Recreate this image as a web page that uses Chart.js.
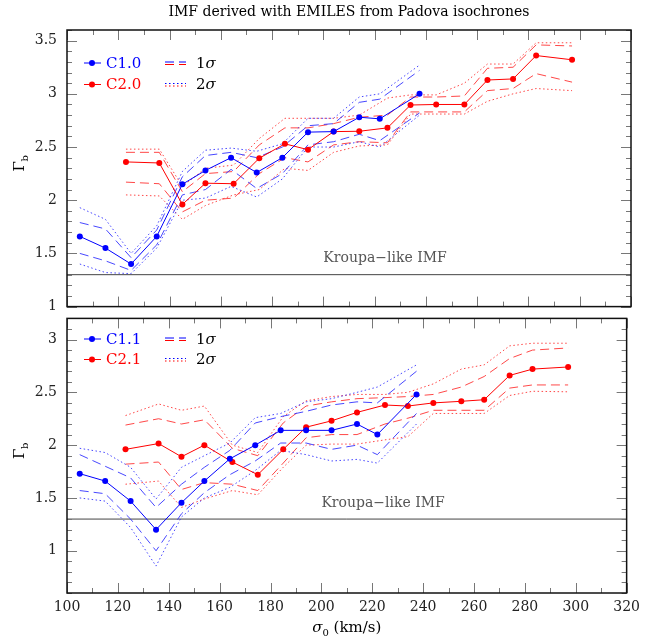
<!DOCTYPE html>
<html>
<head>
<meta charset="utf-8">
<script src="https://cdn.jsdelivr.net/npm/chart.js@4.4.0/dist/chart.umd.min.js"></script>
<style>
  html, body { margin: 0; padding: 0; background: #fff; }
  #wrap { position: relative; width: 646px; height: 639px; }
  #topChart { position: absolute; left: 0; top: 0; }
  #bottomChart { position: absolute; left: 0; top: 300px; }
</style>
</head>
<body>
<div id="wrap">
  <canvas id="topChart" width="646" height="325"></canvas>
  <canvas id="bottomChart" width="646" height="339"></canvas>
</div>
<script>
// ---- data ----
const xTickLabels = [100, 120, 140, 160, 180, 200, 220, 240, 260, 280, 300, 320];
const yTicksTop = [1, 1.5, 2, 2.5, 3, 3.5];
const yTicksBottom = [1, 1.5, 2, 2.5, 3];
const kroupaLevel = 1.3;

// top panel: C1.0 (blue)
const sigC10 = [105, 115, 125, 135, 145, 154, 164, 174, 184, 194, 204, 214, 222, 237.5];
const gamC10 = [1.66, 1.55, 1.40, 1.66, 2.15, 2.28, 2.40, 2.26, 2.40, 2.64, 2.645, 2.78, 2.765, 3.00];
const c10Hi1 = [1.79, 1.73, 1.46, 1.72, 2.22, 2.42, 2.45, 2.40, 2.50, 2.70, 2.72, 2.92, 2.95, 3.22];
const c10Lo1 = [1.50, 1.43, 1.34, 1.58, 2.05, 2.10, 2.29, 2.11, 2.25, 2.52, 2.55, 2.62, 2.56, 2.82];
const c10Hi2 = [1.93, 1.82, 1.50, 1.76, 2.27, 2.47, 2.49, 2.46, 2.53, 2.77, 2.77, 2.97, 3.00, 3.27];
const c10Lo2 = [1.40, 1.32, 1.31, 1.55, 2.00, 2.02, 2.13, 2.03, 2.20, 2.50, 2.50, 2.55, 2.50, 2.80];

// top panel: C2.0 (red)
const sigC20 = [123, 136, 145, 154, 165, 175, 185, 194, 204, 214, 225, 234, 244, 255, 264, 274, 283, 297];
const gamC20 = [2.36, 2.35, 1.96, 2.16, 2.155, 2.395, 2.53, 2.475, 2.645, 2.648, 2.68, 2.895, 2.90, 2.90, 3.13, 3.14, 3.36, 3.32];
const c20Hi1 = [2.45, 2.45, 2.08, 2.25, 2.27, 2.52, 2.68, 2.68, 2.72, 2.78, 2.80, 2.97, 2.97, 2.98, 3.24, 3.25, 3.46, 3.45];
const c20Lo1 = [2.17, 2.155, 1.89, 2.00, 2.02, 2.25, 2.40, 2.36, 2.52, 2.55, 2.54, 2.83, 2.83, 2.83, 3.03, 3.05, 3.19, 3.11];
const c20Hi2 = [2.48, 2.48, 2.13, 2.30, 2.33, 2.58, 2.77, 2.77, 2.77, 2.80, 2.96, 2.99, 2.99, 3.10, 3.28, 3.28, 3.48, 3.48];
const c20Lo2 = [2.05, 2.04, 1.82, 1.95, 2.05, 2.10, 2.30, 2.28, 2.45, 2.51, 2.52, 2.81, 2.81, 2.81, 2.93, 3.00, 3.05, 3.03];

// bottom panel: C1.1 (blue)
const sigC11 = [105, 115, 125, 135, 145, 154, 164, 174, 184, 194, 204, 214, 222, 237.4];
const gamC11 = [1.73, 1.66, 1.47, 1.20, 1.455, 1.66, 1.87, 2.00, 2.14, 2.14, 2.14, 2.20, 2.10, 2.48];
const c11Hi1 = [1.91, 1.80, 1.69, 1.41, 1.63, 1.79, 1.95, 2.21, 2.27, 2.32, 2.38, 2.41, 2.40, 2.70];
const c11Lo1 = [1.57, 1.54, 1.30, 1.00, 1.35, 1.55, 1.72, 1.85, 2.02, 2.02, 1.96, 2.00, 1.91, 2.30];
const c11Hi2 = [1.97, 1.93, 1.79, 1.49, 1.79, 1.90, 2.02, 2.26, 2.30, 2.41, 2.44, 2.50, 2.55, 2.76];
const c11Lo2 = [1.50, 1.47, 1.22, 0.855, 1.32, 1.50, 1.60, 1.76, 1.95, 1.91, 1.85, 1.865, 1.83, 2.20];

// bottom panel: C2.1 (red)
const sigC21 = [123, 136, 145, 154, 165, 175, 185, 194, 204, 214, 225, 234, 244, 255, 264, 274, 283, 297];
const gamC21 = [1.96, 2.015, 1.89, 2.00, 1.84, 1.72, 1.96, 2.17, 2.23, 2.31, 2.38, 2.37, 2.40, 2.415, 2.43, 2.66, 2.72, 2.74];
const c21Hi1 = [2.19, 2.25, 2.20, 2.24, 1.97, 1.90, 2.21, 2.37, 2.41, 2.44, 2.45, 2.46, 2.48, 2.55, 2.65, 2.82, 2.90, 2.92];
const c21Lo1 = [1.82, 1.84, 1.58, 1.645, 1.63, 1.57, 1.83, 2.07, 2.10, 2.10, 2.20, 2.255, 2.33, 2.33, 2.33, 2.54, 2.57, 2.57];
const c21Hi2 = [2.28, 2.39, 2.33, 2.37, 2.00, 1.93, 2.27, 2.42, 2.46, 2.48, 2.48, 2.50, 2.58, 2.72, 2.76, 2.94, 2.965, 2.965];
const c21Lo2 = [1.63, 1.66, 1.41, 1.49, 1.57, 1.53, 1.79, 2.00, 2.01, 2.01, 2.05, 2.08, 2.30, 2.30, 2.30, 2.47, 2.51, 2.505];

// ---- styling ----
const BLUE = '#0000ff';
const RED = '#ff0000';
const BLUE_BAND = 'rgba(40,40,255,0.85)';
const RED_BAND = 'rgba(255,40,40,0.85)';
const DASH = [9, 5];
const DOT = [1.5, 2.5];
const FONT = '"DejaVu Serif", "Liberation Serif", serif';

function pts(xs, ys) {
    return xs.map(function(x, i) { return {x: x, y: ys[i]}; });
}

function mainSet(label, xs, ys, color) {
    return {
        label: label,
        data: pts(xs, ys),
        borderColor: color,
        backgroundColor: color,
        borderWidth: 1,
        pointRadius: 3,
        pointBorderWidth: 0,
        tension: 0,
        order: 0
    };
}

function bandSet(xs, ys, color, dash) {
    return {
        data: pts(xs, ys),
        borderColor: color,
        borderWidth: 1,
        borderDash: dash,
        pointRadius: 0,
        tension: 0,
        order: 1
    };
}

function kroupaSet() {
    return {
        data: [{x: 100, y: kroupaLevel}, {x: 320, y: kroupaLevel}],
        borderColor: '#444',
        borderWidth: 1,
        pointRadius: 0,
        order: 2
    };
}

// frame, inward ticks, legend and annotation text
const decorPlugin = {
    id: 'decor',
    afterDraw: function(chart, args, opts) {
        const ctx = chart.ctx;
        const a = chart.chartArea;
        const xs = chart.scales.x;
        const ys = chart.scales.y;
        ctx.save();

        // ticks
        ctx.strokeStyle = '#777';
        ctx.lineWidth = 1;
        ctx.beginPath();
        for (let v = 100; v <= 320; v += 10) {
            const px = Math.round(xs.getPixelForValue(v)) + 0.5;
            const len = (v % 20 === 0) ? 10 : 5;
            ctx.moveTo(px, a.top); ctx.lineTo(px, a.top + len);
            ctx.moveTo(px, a.bottom); ctx.lineTo(px, a.bottom - len);
        }
        for (let i = Math.round(ys.min * 10); i <= Math.round(ys.max * 10); i++) {
            const py = Math.round(ys.getPixelForValue(i / 10)) + 0.5;
            const len = (i % 5 === 0) ? 10 : 5;
            ctx.moveTo(a.left, py); ctx.lineTo(a.left + len, py);
            ctx.moveTo(a.right, py); ctx.lineTo(a.right - len, py);
        }
        ctx.stroke();

        // frame
        ctx.strokeStyle = '#111';
        ctx.lineWidth = 1.5;
        ctx.strokeRect(a.left, a.top, a.right - a.left, a.bottom - a.top);

        // legend
        const y0 = opts.legendY;
        const gap = opts.legendGap;
        const rows = [[opts.names[0], BLUE], [opts.names[1], RED]];
        ctx.font = '15px ' + FONT;
        ctx.textBaseline = 'middle';
        rows.forEach(function(r, i) {
            const y = y0 + i * gap;
            ctx.strokeStyle = r[1];
            ctx.fillStyle = r[1];
            ctx.lineWidth = 1;
            ctx.setLineDash([]);
            ctx.beginPath(); ctx.moveTo(84, y); ctx.lineTo(101, y); ctx.stroke();
            ctx.beginPath(); ctx.arc(92, y, 3, 0, Math.PI * 2); ctx.fill();
            ctx.textAlign = 'left';
            ctx.fillText(r[0], 106, y + 1);

            ctx.setLineDash(i === 0 ? DASH : DOT);
            ctx.strokeStyle = BLUE;
            ctx.beginPath(); ctx.moveTo(165, y - 1); ctx.lineTo(186, y - 1); ctx.stroke();
            ctx.strokeStyle = RED;
            ctx.beginPath(); ctx.moveTo(165, y + 1.5); ctx.lineTo(186, y + 1.5); ctx.stroke();
            ctx.setLineDash([]);
            ctx.fillStyle = '#000';
            ctx.font = '15px ' + FONT;
            ctx.fillText(String(i + 1), 196, y + 1);
            const w = ctx.measureText(String(i + 1)).width;
            ctx.font = 'italic 15px ' + FONT;
            ctx.fillText('σ', 196 + w, y + 1);
            ctx.font = '15px ' + FONT;
        });

        // Kroupa label
        ctx.fillStyle = '#555';
        ctx.font = '14px ' + FONT;
        ctx.textAlign = 'left';
        ctx.fillText('Kroupa\u2212like IMF', xs.getPixelForValue(200), ys.getPixelForValue(kroupaLevel) - 16);

        // y axis title
        ctx.save();
        ctx.translate(20, (a.top + a.bottom) / 2 - 5);
        ctx.rotate(-Math.PI / 2);
        ctx.fillStyle = '#000';
        ctx.font = '15px ' + FONT;
        ctx.textAlign = 'center';
        ctx.fillText('\u0393', -3, 0);
        ctx.font = '10px ' + FONT;
        ctx.fillText('b', 5, 5);
        ctx.restore();

        // chart title / x title
        ctx.fillStyle = '#000';
        if (opts.title) {
            ctx.font = '14px ' + FONT;
            ctx.textAlign = 'center';
            ctx.fillText(opts.title, (a.left + a.right) / 2, 12);
        }
        if (opts.xTitle) {
            const cx = (a.left + a.right) / 2;
            const ty = a.bottom + 35;
            ctx.textAlign = 'left';
            ctx.font = 'italic 15px ' + FONT;
            const w1 = ctx.measureText('σ').width;
            ctx.font = '10px ' + FONT;
            const w2 = ctx.measureText('0').width;
            ctx.font = '15px ' + FONT;
            const w3 = ctx.measureText(' (km/s)').width;
            let x = cx - (w1 + w2 + w3) / 2;
            ctx.font = 'italic 15px ' + FONT;
            ctx.fillText('σ', x, ty);
            x += w1;
            ctx.font = '10px ' + FONT;
            ctx.fillText('0', x, ty + 5);
            x += w2;
            ctx.font = '15px ' + FONT;
            ctx.fillText(' (km/s)', x, ty);
        }
        ctx.restore();
    }
};

function makeChart(id, datasets, yMin, yMax, yTicks, showX, padding, decor) {
    const ctx = document.getElementById(id).getContext('2d');
    return new Chart(ctx, {
        type: 'line',
        data: { datasets: datasets },
        options: {
            responsive: false,
            animation: false,
            layout: { padding: padding },
            scales: {
                x: {
                    type: 'linear',
                    min: 100,
                    max: 320,
                    display: showX,
                    grid: { display: false, drawTicks: false },
                    border: { display: false },
                    afterBuildTicks: function(scale) {
                        scale.ticks = xTickLabels.map(function(v) { return {value: v}; });
                    },
                    afterFit: function(scale) { if (showX) scale.height = 46; },
                    ticks: {
                        padding: 6,
                        maxRotation: 0,
                        color: '#222',
                        font: { family: FONT, size: 14 },
                        callback: function(v) { return String(v); }
                    }
                },
                y: {
                    type: 'linear',
                    min: yMin,
                    max: yMax,
                    grid: { display: false, drawTicks: false },
                    border: { display: false },
                    afterBuildTicks: function(scale) {
                        scale.ticks = yTicks.map(function(v) { return {value: v}; });
                    },
                    afterFit: function(scale) { scale.width = 67; },
                    ticks: {
                        padding: 10,
                        color: '#222',
                        font: { family: FONT, size: 14 },
                        callback: function(v) { return String(v); }
                    }
                }
            },
            plugins: {
                legend: { display: false },
                tooltip: { enabled: false },
                decor: decor
            }
        },
        plugins: [decorPlugin]
    });
}

makeChart('topChart', [
    mainSet('C1.0', sigC10, gamC10, BLUE),
    mainSet('C2.0', sigC20, gamC20, RED),
    bandSet(sigC10, c10Hi1, BLUE_BAND, DASH),
    bandSet(sigC10, c10Lo1, BLUE_BAND, DASH),
    bandSet(sigC10, c10Hi2, BLUE_BAND, DOT),
    bandSet(sigC10, c10Lo2, BLUE_BAND, DOT),
    bandSet(sigC20, c20Hi1, RED_BAND, DASH),
    bandSet(sigC20, c20Lo1, RED_BAND, DASH),
    bandSet(sigC20, c20Hi2, RED_BAND, DOT),
    bandSet(sigC20, c20Lo2, RED_BAND, DOT),
    kroupaSet()
], 1, 3.6, yTicksTop, false, {left: 0, right: 15, top: 30, bottom: 18},
   {names: ['C1.0', 'C2.0'], legendY: 63, legendGap: 21.5,
    title: 'IMF derived with EMILES from Padova isochrones'});

makeChart('bottomChart', [
    mainSet('C1.1', sigC11, gamC11, BLUE),
    mainSet('C2.1', sigC21, gamC21, RED),
    bandSet(sigC11, c11Hi1, BLUE_BAND, DASH),
    bandSet(sigC11, c11Lo1, BLUE_BAND, DASH),
    bandSet(sigC11, c11Hi2, BLUE_BAND, DOT),
    bandSet(sigC11, c11Lo2, BLUE_BAND, DOT),
    bandSet(sigC21, c21Hi1, RED_BAND, DASH),
    bandSet(sigC21, c21Lo1, RED_BAND, DASH),
    bandSet(sigC21, c21Hi2, RED_BAND, DOT),
    bandSet(sigC21, c21Lo2, RED_BAND, DOT),
    kroupaSet()
], 0.6, 3.2, yTicksBottom, true, {left: 0, right: 15, top: 17, bottom: 0},
   {names: ['C1.1', 'C2.1'], legendY: 39, legendGap: 20.5, xTitle: true});
</script>
</body>
</html>
